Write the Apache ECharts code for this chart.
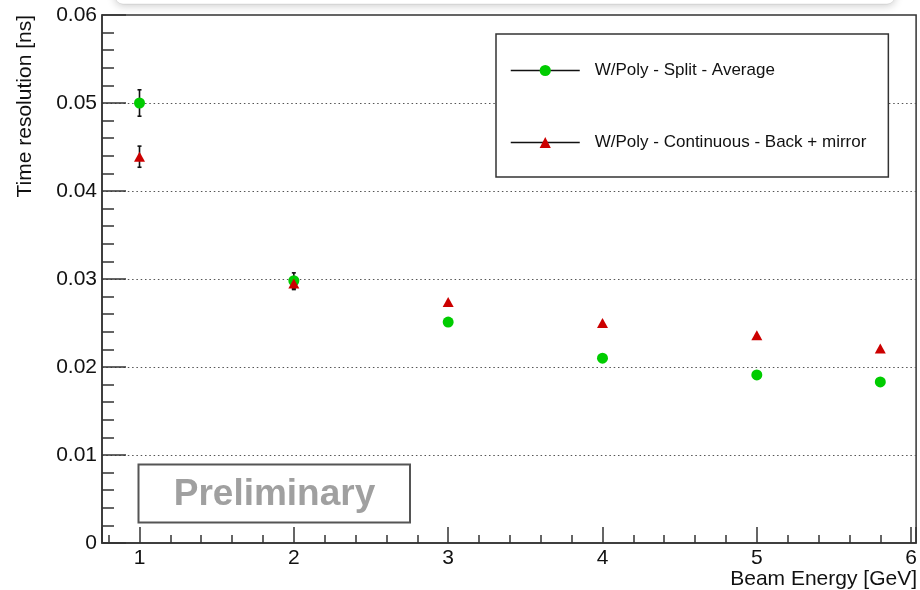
<!DOCTYPE html>
<html>
<head>
<meta charset="utf-8">
<script src="https://cdn.jsdelivr.net/npm/echarts@6/dist/echarts.min.js"></script>
<style>
  html, body { margin: 0; padding: 0; background: #fff; }
  #chart { width: 920px; height: 590px; }
</style>
</head>
<body>
<div id="chart"></div>
<script>
// Beam energies [GeV] at which the time resolution was measured
const energies = [1, 2, 3, 4, 5, 5.8];

// W/Poly - Split - Average
const splitAverage    = [0.0500, 0.0298, 0.0251, 0.0210, 0.0191, 0.0183];
const splitAverageErr = [0.0015, 0.0009, 0.0003, 0.0003, 0.0003, 0.0003];

// W/Poly - Continuous - Back + mirror
const backMirror    = [0.0439, 0.0295, 0.0274, 0.0250, 0.0236, 0.0221];
const backMirrorErr = [0.0012, 0.0007, 0.0003, 0.0003, 0.0003, 0.0003];

const seriesNames = ['W/Poly - Split - Average', 'W/Poly - Continuous - Back + mirror'];

// Axis ranges and tick values
const yTicks = [0, 0.01, 0.02, 0.03, 0.04, 0.05, 0.06];
const xRange = [0.757, 6.032];

const FONT = "'Liberation Sans', Arial, Helvetica, sans-serif";
const GREEN = '#00cc00';
const RED = '#cc0000';
const INK = '#111';
const FRAME = '#333';

// Vertical error bars with small caps; bars shorter than the marker stay hidden behind it
function errorBars(values, errors, markerRadius) {
  return {
    type: 'custom',
    silent: true,
    z: 2,
    data: energies.map((e, i) => [e, values[i] - errors[i], values[i] + errors[i], values[i]]),
    encode: { x: 0, y: [1, 2] },
    renderItem(params, api) {
      const x = api.value(0);
      const lo = api.coord([x, api.value(1)]);
      const hi = api.coord([x, api.value(2)]);
      const c = api.coord([x, api.value(3)]);
      if (lo[1] - c[1] <= markerRadius) return { type: 'group', children: [] };
      const cap = 2;
      const style = { stroke: INK, lineWidth: 1.6 };
      return {
        type: 'group',
        children: [
          { type: 'line', shape: { x1: hi[0], y1: hi[1], x2: lo[0], y2: lo[1] }, style },
          { type: 'line', shape: { x1: hi[0] - cap, y1: hi[1], x2: hi[0] + cap, y2: hi[1] }, style },
          { type: 'line', shape: { x1: lo[0] - cap, y1: lo[1], x2: lo[0] + cap, y2: lo[1] }, style }
        ]
      };
    }
  };
}

// Marker-only series (line hidden) so the legend shows the line-with-marker icon
function markerSeries(name, values, symbol, size, color) {
  return {
    name,
    type: 'line',
    z: 3,
    silent: true,
    symbol,
    symbolSize: size,
    showSymbol: true,
    showAllSymbol: true,
    lineStyle: { opacity: 0 },
    itemStyle: { color, borderWidth: 0 },
    emphasis: { disabled: true },
    data: energies.map((e, i) => [e, values[i]])
  };
}

const chart = echarts.init(document.getElementById('chart'), null, { renderer: 'canvas' });

chart.setOption({
  animation: false,
  backgroundColor: '#fff',
  textStyle: { fontFamily: FONT },
  grid: {
    left: 102, right: 3, top: 15, bottom: 47,
    show: true,
    borderColor: FRAME,
    borderWidth: 1.5,
    backgroundColor: 'transparent'
  },
  xAxis: {
    type: 'value',
    min: xRange[0],
    max: xRange[1],
    splitNumber: 5,
    axisLine: { show: true, onZero: false, lineStyle: { color: FRAME, width: 1.5 } },
    axisTick: { show: true, inside: true, length: 16, lineStyle: { color: FRAME, width: 1.5 } },
    minorTick: { show: true, splitNumber: 5, length: 8, lineStyle: { color: FRAME, width: 1.5 } },
    splitLine: { show: false },
    axisLabel: {
      margin: 5,
      color: INK,
      fontSize: 21,
      fontFamily: FONT,
      showMinLabel: true,
      showMaxLabel: true,
      formatter: v => (Math.abs(v - Math.round(v)) < 1e-9 ? String(Math.round(v)) : '')
    }
  },
  yAxis: {
    type: 'value',
    min: yTicks[0],
    max: yTicks[yTicks.length - 1],
    interval: yTicks[1] - yTicks[0],
    axisLine: { show: true, onZero: false, lineStyle: { color: FRAME, width: 1.5 } },
    axisTick: { show: true, inside: true, length: 24, lineStyle: { color: FRAME, width: 1.5 } },
    minorTick: { show: true, splitNumber: 5, length: 12, lineStyle: { color: FRAME, width: 1.5 } },
    splitLine: {
      show: true,
      showMinLine: false,
      showMaxLine: false,
      lineStyle: { color: '#555', width: 1.2, type: [1.5, 2.8] }
    },
    axisLabel: {
      margin: 5,
      color: INK,
      fontSize: 21,
      fontFamily: FONT,
      formatter: v => String(parseFloat(v.toFixed(4)))
    }
  },
  legend: {
    data: seriesNames,
    orient: 'vertical',
    left: 496,
    top: 34,
    itemWidth: 69,
    itemHeight: 14,
    itemGap: 55,
    padding: [28, 22, 26, 14],
    borderColor: FRAME,
    borderWidth: 1.5,
    backgroundColor: '#fff',
    selectedMode: false,
    lineStyle: { color: INK, width: 1.5, opacity: 1 },
    textStyle: { fontSize: 17, color: INK, fontFamily: FONT, padding: [0, 0, 0, 10] }
  },
  graphic: [
    // faint panel edge peeking in at the top of the slide
    {
      type: 'rect',
      z: -1,
      silent: true,
      shape: { x: 115, y: -30, width: 780, height: 34, r: 8 },
      style: {
        fill: '#fff',
        stroke: 'rgba(0,0,0,0.08)',
        lineWidth: 1,
        shadowBlur: 8,
        shadowOffsetY: 2,
        shadowColor: 'rgba(0,0,0,0.2)'
      }
    },
    // axis titles
    {
      type: 'text',
      silent: true,
      x: 25,
      y: 15,
      rotation: Math.PI / 2,
      style: {
        text: 'Time resolution [ns]',
        fill: INK,
        font: '21px ' + FONT,
        textAlign: 'right',
        textVerticalAlign: 'middle'
      }
    },
    {
      type: 'text',
      silent: true,
      x: 917,
      y: 579,
      style: {
        text: 'Beam Energy [GeV]',
        fill: INK,
        font: '21px ' + FONT,
        textAlign: 'right',
        textVerticalAlign: 'middle'
      }
    },
    // "Preliminary" stamp
    {
      type: 'rect',
      silent: true,
      z: 10,
      shape: { x: 138.5, y: 464.5, width: 271.5, height: 58 },
      style: { fill: 'transparent', stroke: '#555', lineWidth: 2 }
    },
    {
      type: 'text',
      silent: true,
      z: 10,
      x: 274.5,
      y: 495,
      style: {
        text: 'Preliminary',
        fill: '#a0a0a0',
        font: 'bold 37px ' + FONT,
        textAlign: 'center',
        textVerticalAlign: 'middle'
      }
    }
  ],
  series: [
    errorBars(splitAverage, splitAverageErr, 5.5),
    errorBars(backMirror, backMirrorErr, 5),
    markerSeries(seriesNames[0], splitAverage, 'circle', 11, GREEN),
    markerSeries(seriesNames[1], backMirror, 'triangle', [11, 10], RED)
  ]
});
</script>
</body>
</html>
